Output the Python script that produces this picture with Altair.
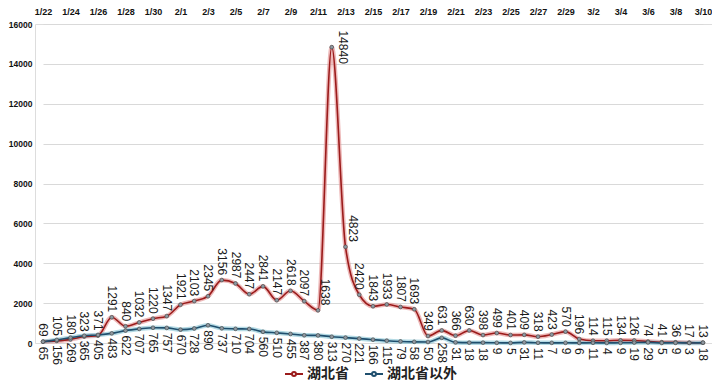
import altair as alt
import pandas as pd

dates = ["1/22", "1/23", "1/24", "1/25", "1/26", "1/27", "1/28", "1/29", "1/30", "1/31",
         "2/1", "2/2", "2/3", "2/4", "2/5", "2/6", "2/7", "2/8", "2/9", "2/10",
         "2/11", "2/12", "2/13", "2/14", "2/15", "2/16", "2/17", "2/18", "2/19", "2/20",
         "2/21", "2/22", "2/23", "2/24", "2/25", "2/26", "2/27", "2/28", "2/29",
         "3/1", "3/2", "3/3", "3/4", "3/5", "3/6", "3/7", "3/8", "3/9", "3/10"]
hubei = [69, 105, 180, 323, 371, 1291, 840, 1032, 1220, 1347,
         1921, 2103, 2345, 3156, 2987, 2447, 2841, 2147, 2618, 2097,
         1638, 14840, 4823, 2420, 1843, 1933, 1807, 1693, 349, 631,
         366, 630, 398, 499, 401, 409, 318, 423, 570,
         196, 114, 115, 134, 126, 74, 41, 36, 17, 13]
outside = [65, 156, 269, 365, 405, 483, 622, 707, 765, 757,
           670, 728, 890, 737, 710, 704, 560, 510, 455, 387,
           380, 313, 270, 221, 166, 115, 79, 58, 50, 258,
           31, 18, 18, 9, 5, 31, 11, 7, 9,
           6, 11, 4, 9, 19, 29, 5, 9, 3, 18]
series_names = ["湖北省", "湖北省以外"]
y_ticks = [0, 2000, 4000, 6000, 8000, 10000, 12000, 14000, 16000]

rows = []
for d, h in zip(dates, hubei):
    rows.append({"date": d, "series": series_names[0], "value": h})
for d, o in zip(dates, outside):
    rows.append({"date": d, "series": series_names[1], "value": o})
df = pd.DataFrame(rows)

x = alt.X(
    "date:O", sort=dates,
    scale=alt.Scale(type="point", range=[8, 668], padding=0),
    axis=alt.Axis(orient="top", values=dates[::2], labelAngle=0, ticks=False, domain=False,
                  labelFontSize=9, labelFontWeight="bold", labelFont="Liberation Sans",
                  labelPadding=8, labelColor="#111111", title=None, grid=False),
)
y = alt.Y(
    "value:Q",
    scale=alt.Scale(domain=[0, 16000], nice=False),
    axis=alt.Axis(values=y_ticks, format="d", ticks=False, domain=False, grid=True,
                  gridColor="#d9d9d9", gridWidth=1, labelFontSize=8.5, labelFontWeight="bold",
                  labelFont="Liberation Sans", labelPadding=3, labelColor="#111111", title=None),
)

is_hubei = "datum.series === '湖北省'"
base = alt.Chart(df)

halo = base.mark_line(interpolate="monotone", strokeWidth=4.5, opacity=0.65).encode(
    x=x, y=y, detail="series:N",
    stroke=alt.condition(is_hubei, alt.value("#e39494"), alt.value("#8cc6d6")),
)

core = base.mark_line(interpolate="monotone", strokeWidth=1.6).encode(
    x=x, y=y,
    color=alt.Color(
        "series:N",
        scale=alt.Scale(domain=series_names, range=["#9b1b1b", "#1f4f6e"]),
        legend=alt.Legend(
            title=None, orient="none", legendX=249, legendY=340, direction="horizontal",
            symbolType="M-1,0L-0.22,0M0.22,0L1,0M-0.22,0A0.22,0.22 0 1,1 0.22,0A0.22,0.22 0 1,1 -0.22,0Z",
            symbolSize=324, symbolStrokeWidth=2, labelFont="Noto Sans CJK SC",
            labelFontSize=14, labelFontWeight="bold", labelColor="#222222",
            columnPadding=12, labelOffset=3,
        ),
    ),
)

pts = base.mark_point(filled=True, size=14, fill="#8f9aa3", stroke="#4a4a4a",
                      strokeWidth=0.7, opacity=1).encode(x=x, y=y)

text_style = dict(angle=90, baseline="middle", font="Liberation Sans", fontSize=12, color="#1a1a1a")

red_labels = base.transform_filter(
    "datum.series === '湖北省' && datum.date !== '2/11' && datum.date !== '2/12' && datum.date !== '2/13'"
).mark_text(align="right", dx=-5, **text_style).encode(x=x, y=y, text="value:Q")

near_peak_labels = base.transform_filter(
    "datum.series === '湖北省' && (datum.date === '2/11' || datum.date === '2/13')"
).mark_text(align="right", dx=-5, dy=-7, **text_style).encode(x=x, y=y, text="value:Q")

peak_label = base.transform_filter(
    "datum.series === '湖北省' && datum.date === '2/12'"
).mark_text(align="center", dy=-11, **text_style).encode(x=x, y=y, text="value:Q")

blue_labels = base.transform_filter(
    "datum.series === '湖北省以外'"
).mark_text(align="left", dx=5, **text_style).encode(x=x, y=y, text="value:Q")

chart = alt.layer(halo, core, pts, red_labels, near_peak_labels, peak_label, blue_labels).properties(
    width=677, height=319,
    autosize=alt.AutoSizeParams(type="none"),
    padding={"left": 27, "top": 16, "right": 0, "bottom": 41},
).configure_view(strokeWidth=0).configure(background="white")

chart.save("out.html", embed_options={"renderer": "svg", "actions": False})
